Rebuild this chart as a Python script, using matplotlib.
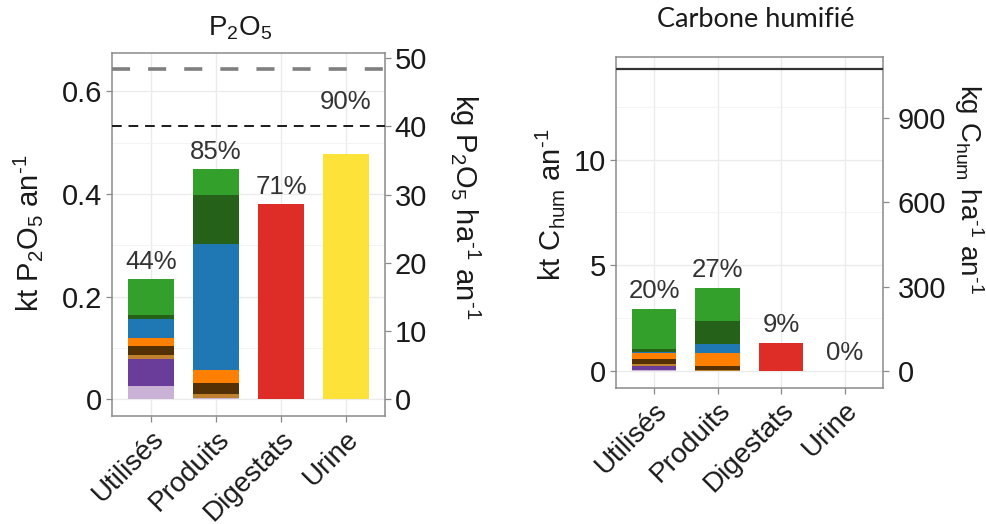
import matplotlib
matplotlib.use("Agg")
import matplotlib.pyplot as plt
import numpy as np

plt.rcParams["font.family"] = ["Liberation Sans", "DejaVu Sans"]
plt.rcParams["mathtext.fontset"] = "custom"
plt.rcParams["mathtext.rm"] = "Liberation Sans"
plt.rcParams["mathtext.it"] = "Liberation Sans:italic"
plt.rcParams["mathtext.bf"] = "Liberation Sans:bold"

# ---- data -------------------------------------------------------------
categories = ["Utilisés", "Produits", "Digestats", "Urine"]

# stack components, bottom to top
comp_colors = ["#cab2d6", "#6a3d9a", "#bf812d", "#543005",
               "#ff7f00", "#1f78b4", "#256119", "#33a02c"]

# P2O5 (kt / an): stacked values for Utilisés and Produits
p_utilises = [0.026, 0.053, 0.0065, 0.0185, 0.0146, 0.0385, 0.0064, 0.0716]
p_produits = [0.0014, 0.0, 0.0078, 0.023, 0.0244, 0.2458, 0.0956, 0.0508]
p_digestats = 0.381
p_urine = 0.478
p_pct = ["44%", "85%", "71%", "90%"]
p_label_y = [0.268, 0.4825, 0.414, 0.580]
p_ref_black_kg = 40.0
p_ref_grey_kg = 48.4

# Carbone humifié (kt / an)
c_utilises = [0.04, 0.19, 0.08, 0.27, 0.28, 0.05, 0.11, 1.92]
c_produits = [0.0, 0.0, 0.03, 0.22, 0.60, 0.45, 1.06, 1.58]
c_digestats = 1.33
c_urine = 0.0
c_pct = ["20%", "27%", "9%", "0%"]
c_label_y = [3.78, 4.80, 2.20, 0.86]
c_ref_kg = 1074.0

# surface used for per-hectare conversion (ha)
surface_ha = 13300.0

red = "#de2d26"
yellow = "#fde23a"

TICK_FS = 21
XTICK_FS = 20
LABEL_FS = 21
PCT_FS = 18.5
HY = "\u2010"  # hyphen used in the unit exponents

# ---- helpers ----------------------------------------------------------
kt_to_kg = lambda v: np.asarray(v) * 1e6 / surface_ha
kg_to_kt = lambda v: np.asarray(v) * surface_ha / 1e6


def style_axes(ax, ylim, major, minor):
    ax.set_xlim(0.4, 4.6)
    ax.set_ylim(*ylim)
    ax.set_facecolor("white")
    ax.set_yticks(major)
    ax.set_yticks(minor, minor=True)
    ax.set_xticks(range(1, 5))
    ax.grid(True, which="major", color="#ebebeb", lw=1.0, zorder=0)
    ax.grid(True, which="minor", axis="y", color="#f3f3f3", lw=0.6, zorder=0)
    ax.set_axisbelow(True)
    for s in ax.spines.values():
        s.set_color("#8a8a8a")
        s.set_linewidth(1.1)
    ax.tick_params(axis="both", which="major", length=4, width=0.9,
                   color="#8a8a8a", labelsize=TICK_FS, labelcolor="#1a1a1a",
                   pad=3)
    ax.tick_params(axis="y", which="minor", length=0)
    ax.set_xticklabels(categories, rotation=45, ha="right",
                       rotation_mode="anchor", fontsize=XTICK_FS)


def draw_stack(ax, x, values):
    bottom = 0.0
    for v, col in zip(values, comp_colors):
        if v > 0:
            ax.bar(x, v, bottom=bottom, width=0.7, color=col,
                   edgecolor="none", zorder=2)
        bottom += v
    return bottom


fig = plt.figure(figsize=(9.87, 5.24), dpi=100)

# ---- P2O5 panel -------------------------------------------------------
ax1 = fig.add_axes([0.1135, 0.2061, 0.2766, 0.6927])
style_axes(ax1, (-0.033, 0.675), [0, 0.2, 0.4, 0.6], [0.1, 0.3, 0.5])
ax1.set_yticklabels(["0", "0.2", "0.4", "0.6"])
draw_stack(ax1, 1, p_utilises)
draw_stack(ax1, 2, p_produits)
ax1.bar(3, p_digestats, width=0.7, color=red, edgecolor="none", zorder=2)
ax1.bar(4, p_urine, width=0.7, color=yellow, edgecolor="none", zorder=2)
ax1.axhline(kg_to_kt(p_ref_grey_kg), color="#7f7f7f", lw=2.6,
            ls=(0, (5, 5)), zorder=3)
ax1.axhline(kg_to_kt(p_ref_black_kg), color="#1a1a1a", lw=1.4,
            ls=(0, (5, 3.5)), zorder=3)
for i, (t, y) in enumerate(zip(p_pct, p_label_y)):
    ax1.text(i + 1, y, t, ha="center", va="center", fontsize=PCT_FS,
             color="#333333", zorder=4)
sec1 = ax1.secondary_yaxis("right", functions=(kt_to_kg, kg_to_kt))
sec1.set_yticks([0, 10, 20, 30, 40, 50])
sec1.tick_params(length=4, width=0.9, color="#8a8a8a", labelsize=TICK_FS,
                 labelcolor="#1a1a1a", pad=3)
sec1.spines["right"].set_visible(False)

fig.text(0.2432, 0.947, r"$\mathregular{P_2O_5}$", ha="center", va="center",
         fontsize=20, color="#1a1a1a")
fig.text(0.028, 0.554,
         r"kt $\mathregular{P_2O_5}$ an$\mathregular{^{%s1}}$" % HY,
         rotation=90, ha="center", va="center", fontsize=LABEL_FS,
         color="#1a1a1a")
fig.text(0.471, 0.606,
         r"kg $\mathregular{P_2O_5}$ ha$\mathregular{^{%s1}}$ an$\mathregular{^{%s1}}$"
         % (HY, HY),
         rotation=270, ha="center", va="center", fontsize=LABEL_FS,
         color="#1a1a1a")

# ---- Carbone humifié panel -------------------------------------------
ax2 = fig.add_axes([0.6241, 0.2601, 0.2702, 0.6317])
style_axes(ax2, (-0.79, 14.87), [0, 5, 10], [2.5, 7.5, 12.5])
ax2.set_yticklabels(["0", "5", "10"])
draw_stack(ax2, 1, c_utilises)
draw_stack(ax2, 2, c_produits)
ax2.bar(3, c_digestats, width=0.7, color=red, edgecolor="none", zorder=2)
ax2.bar(4, c_urine, width=0.7, color=yellow, edgecolor="none", zorder=2)
ax2.axhline(kg_to_kt(c_ref_kg), color="#333333", lw=1.6, zorder=3)
for i, (t, y) in enumerate(zip(c_pct, c_label_y)):
    ax2.text(i + 1, y, t, ha="center", va="center", fontsize=PCT_FS,
             color="#333333", zorder=4)
sec2 = ax2.secondary_yaxis("right", functions=(kt_to_kg, kg_to_kt))
sec2.set_yticks([0, 300, 600, 900])
sec2.tick_params(length=4, width=0.9, color="#8a8a8a", labelsize=TICK_FS,
                 labelcolor="#1a1a1a", pad=7)
sec2.spines["right"].set_visible(False)

fig.text(0.766, 0.962, "Carbone humifié", ha="center", va="center",
         fontsize=19.5, color="#1a1a1a", family=["Lato", "DejaVu Sans"])
fig.text(0.557, 0.609,
         r"kt $\mathregular{C_{hum}}$ an$\mathregular{^{%s1}}$" % HY,
         rotation=90, ha="center", va="center", fontsize=LABEL_FS,
         color="#1a1a1a")
fig.text(0.982, 0.64,
         r"kg $\mathregular{C_{hum}}$ ha$\mathregular{^{%s1}}$ an$\mathregular{^{%s1}}$"
         % (HY, HY),
         rotation=270, ha="center", va="center", fontsize=LABEL_FS - 1,
         color="#1a1a1a")

fig.savefig("out.png", dpi=100, facecolor="white")
